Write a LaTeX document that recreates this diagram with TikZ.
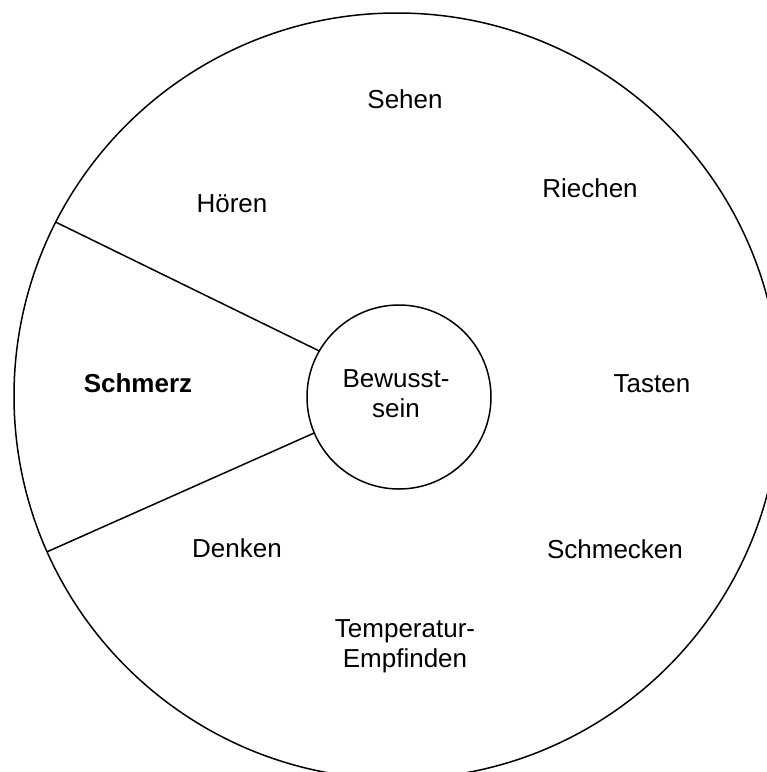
\documentclass[tikz,border=0pt]{standalone}
\usepackage{fontspec}
\setmainfont{Liberation Sans}
\begin{document}
\begin{tikzpicture}[x=1pt,y=-1pt,
  ring/.style={circle,draw,line width=1.5pt,inner sep=0pt,outer sep=0pt},
  lbl/.style={anchor=base,inner sep=0pt,font=\fontsize{26}{30}\selectfont},
  lbl2/.style={align=center,inner sep=0pt,font=\fontsize{26}{30}\selectfont},
  spoke/.style={line width=1.5pt}]
\useasboundingbox (0,0) rectangle (767,772);
\clip (0,0) rectangle (767,772);
\node[ring,minimum size=766pt] (outer) at (397,396) {};
\node[ring,minimum size=184pt] (inner) at (399,397) {};
\draw[spoke] (outer.153.6) -- (inner.150.6);
\draw[spoke] (outer.204.9) -- (inner.203);
\node[lbl] (sehen) at (405,108) {Sehen};
\node[lbl] (hoeren) at (232,212) {Hören};
\node[lbl] (riechen) at (590,197) {Riechen};
\node[lbl,font=\fontsize{26}{30}\selectfont\bfseries] (schmerz) at (138,392) {Schmerz};
\node[lbl] (tasten) at (652,392) {Tasten};
\node[lbl] (denken) at (237,557) {Denken};
\node[lbl] (schmecken) at (615,558) {Schmecken};
\node[lbl2,anchor=base] (bew) at (396,417) {Bewusst-\\sein};
\node[lbl2,anchor=base] (temp) at (405,667) {Temperatur-\\Empfinden};
\end{tikzpicture}
\end{document}
